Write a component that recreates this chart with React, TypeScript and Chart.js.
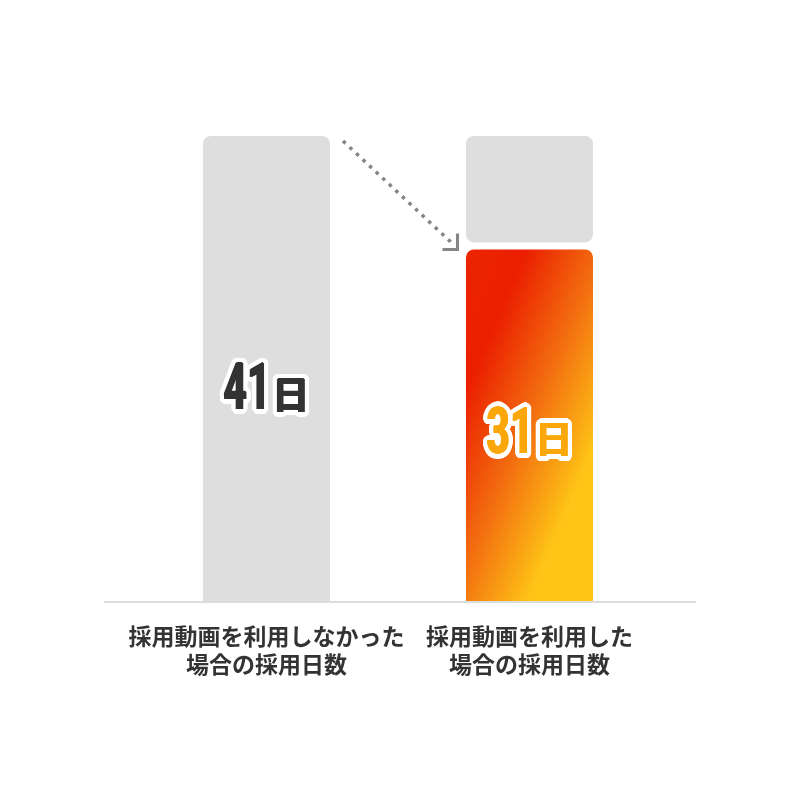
import { useEffect, useRef } from "react";
import { Chart, registerables } from "chart.js";

Chart.register(...registerables);

// ---- data ----
const categories: string[][] = [
  ["採用動画を利用しなかった", "場合の採用日数"],
  ["採用動画を利用した", "場合の採用日数"],
];
const hiringDays: number[] = [41, 31];
const dayUnit = "日";
const axisMax = 41;
const gapDays = 0.62; // small visual gap between grey remainder and coloured bar

// ---- style ----
const GRAY = "#dedede";
const BAR_PCT = 0.483;
const DIR = { x: 0.919, y: 0.394 };

function makeGradient(chart: any) {
  const xs = chart.scales.x;
  const ys = chart.scales.y;
  if (!xs || !ys || !chart.chartArea) return "#f36f10";
  const cat = Math.abs(xs.getPixelForValue(1) - xs.getPixelForValue(0));
  const w = cat * BAR_PCT;
  const L = xs.getPixelForValue(1) - w / 2;
  const T = ys.getPixelForValue(hiringDays[1]);
  const h = ys.getPixelForValue(0) - T;
  const len = DIR.x * w + DIR.y * h;
  const g = chart.ctx.createLinearGradient(L, T, L + DIR.x * len, T + DIR.y * len);
  g.addColorStop(0, "#ec2400");
  g.addColorStop(0.22, "#eb1f00");
  g.addColorStop(0.5, "#f37010");
  g.addColorStop(0.77, "#fec516");
  g.addColorStop(1, "#fec516");
  return g;
}

function drawValue(ctx: CanvasRenderingContext2D, cx: number, baseline: number, value: number, fill: string) {
  const digits = [...String(value)];
  const sx = 0.62;
  const digitFont = "bold 64px Roboto";
  const unitFont = "bold 37px 'Noto Sans CJK JP'";
  ctx.save();
  ctx.textAlign = "left";
  ctx.textBaseline = "alphabetic";
  ctx.font = digitFont;
  const dw = digits.map((c) => ctx.measureText(c).width * sx);
  ctx.font = unitFont;
  const uw = ctx.measureText(dayUnit).width;
  const spacing = 1;
  const gapU = 2;
  const total = dw.reduce((a, b) => a + b, 0) + spacing * (digits.length - 1) + gapU + uw;
  const items: { c: string; x: number; digit: boolean }[] = [];
  let x = cx - total / 2;
  digits.forEach((c, i) => {
    items.push({ c, x, digit: true });
    x += dw[i] + spacing;
  });
  x += gapU - spacing;
  items.push({ c: dayUnit, x, digit: false });

  const drawItem = (it: any, color: string, ox: number, oy: number) => {
    ctx.fillStyle = color;
    if (it.digit) {
      ctx.save();
      ctx.translate(it.x + ox, baseline + oy);
      ctx.scale(sx, 1);
      ctx.font = digitFont;
      ctx.fillText(it.c, 0, 0);
      ctx.restore();
    } else {
      ctx.font = unitFont;
      ctx.fillText(it.c, it.x + ox, baseline + oy);
    }
  };
  // white outline
  const rings = [5, 3.5, 2];
  rings.forEach((r) => {
    for (let a = 0; a < 36; a++) {
      const ang = (a / 36) * Math.PI * 2;
      items.forEach((it) => drawItem(it, "#ffffff", r * Math.cos(ang), r * Math.sin(ang)));
    }
  });
  // faux-bold fill
  const boldOffsets = [-1, -0.5, 0, 0.5, 1];
  boldOffsets.forEach((o) => items.forEach((it) => drawItem(it, fill, o, 0)));
  items.forEach((it) => drawItem(it, fill, 0, -0.5));
  ctx.restore();
}

const overlay = {
  id: "overlay",
  afterDatasetsDraw(chart: any) {
    const ctx: CanvasRenderingContext2D = chart.ctx;
    const area = chart.chartArea;
    const leftBar = chart.getDatasetMeta(0).data[0];
    const colBar = chart.getDatasetMeta(1).data[1];
    if (!leftBar || !colBar) return;

    ctx.save();
    // baseline
    ctx.fillStyle = "#dddddd";
    ctx.fillRect(104, area.bottom, chart.width - 208, 2);

    // dotted arrow
    const sx = leftBar.x + leftBar.width / 2 + 13;
    const sy = leftBar.y + 5;
    const ex = colBar.x - colBar.width / 2 - 8.5;
    const ey = colBar.y;
    ctx.strokeStyle = "#858585";
    ctx.lineWidth = 3.5;
    ctx.setLineDash([3.5, 5.5]);
    ctx.beginPath();
    ctx.moveTo(sx, sy);
    ctx.lineTo(ex - 3, ey - 4);
    ctx.stroke();
    ctx.setLineDash([]);
    ctx.lineWidth = 3;
    ctx.lineJoin = "miter";
    ctx.beginPath();
    ctx.moveTo(ex, ey - 16);
    ctx.lineTo(ex, ey);
    ctx.lineTo(ex - 15, ey);
    ctx.stroke();
    ctx.restore();

    // value labels
    const lb = leftBar.base - 0.413 * (leftBar.base - leftBar.y);
    drawValue(ctx, leftBar.x, lb, hiringDays[0], "#333333");
    const rb = colBar.base - 0.42 * (colBar.base - colBar.y);
    drawValue(ctx, colBar.x, rb, hiringDays[1], "#fba70a");
  },
};

export default function App() {
  const ref = useRef<HTMLCanvasElement>(null);
  useEffect(() => {
    if (!ref.current) return;
    const chart = new Chart(ref.current, {
      type: "bar",
      data: {
        labels: categories,
        datasets: [
          {
            label: "grey",
            data: [
              [0, hiringDays[0]],
              [hiringDays[1] + gapDays, hiringDays[0]],
            ] as any,
            backgroundColor: GRAY,
            borderSkipped: false,
            borderRadius: (c: any) =>
              c.dataIndex === 0 ? { topLeft: 8, topRight: 8, bottomLeft: 0, bottomRight: 0 } : 8,
            grouped: false,
            barPercentage: BAR_PCT,
            categoryPercentage: 1,
            order: 2,
          } as any,
          {
            label: "coloured",
            data: [null, hiringDays[1]],
            backgroundColor: (c: any) => makeGradient(c.chart),
            borderSkipped: false,
            borderRadius: { topLeft: 8, topRight: 8, bottomLeft: 0, bottomRight: 0 },
            grouped: false,
            barPercentage: BAR_PCT,
            categoryPercentage: 1,
            order: 1,
          } as any,
        ],
      },
      options: {
        responsive: false,
        animation: false,
        layout: { padding: { left: 135, right: 139, top: 136, bottom: 0 } },
        plugins: { legend: { display: false }, tooltip: { enabled: false } },
        scales: {
          x: {
            grid: { display: false, drawTicks: false },
            border: { display: false },
            ticks: {
              color: "#333333",
              padding: 21,
              maxRotation: 0,
              autoSkip: false,
              font: { family: "'Noto Sans CJK JP'", size: 23, weight: "bold", lineHeight: 1.22 },
            },
            afterFit: (s: any) => {
              s.height = 199;
            },
          },
          y: { display: false, min: 0, max: axisMax },
        },
      },
      plugins: [overlay],
    });
    return () => chart.destroy();
  }, []);
  return (
    <div style={{ position: "fixed", left: 0, top: 0, width: 800, height: 800, background: "#fff" }}>
      <canvas ref={ref} width={800} height={800} style={{ display: "block" }} />
    </div>
  );
}
